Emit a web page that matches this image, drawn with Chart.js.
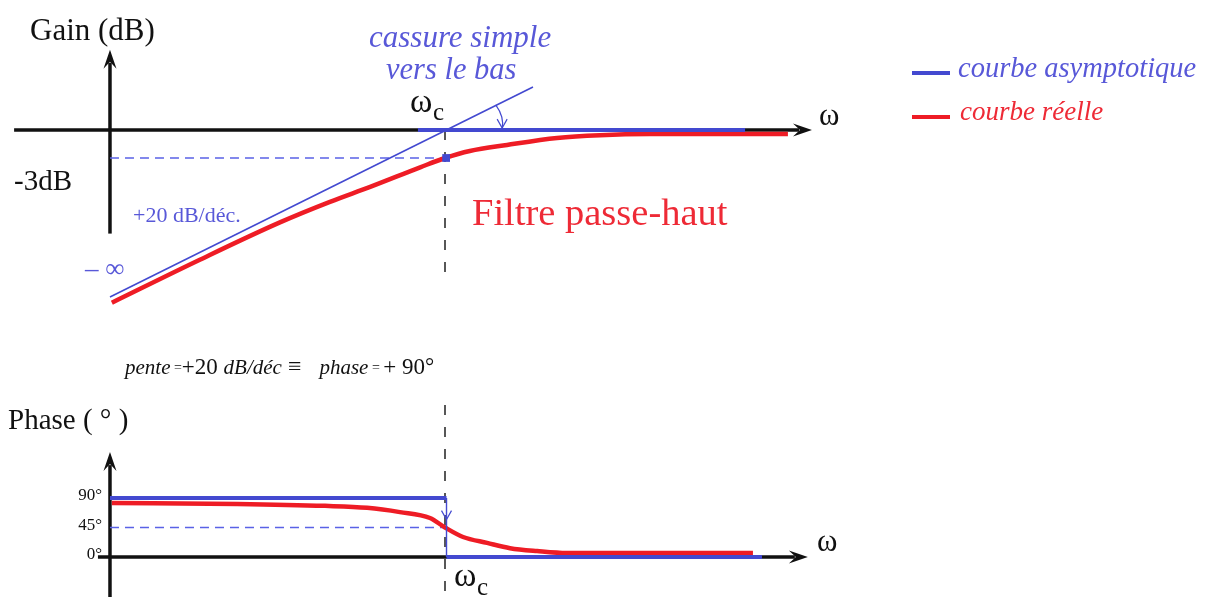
<!DOCTYPE html>
<html lang="fr">
<head>
<meta charset="utf-8">
<title>Filtre passe-haut – diagramme de Bode</title>
<script src="https://cdn.jsdelivr.net/npm/chart.js@4.4.1/dist/chart.umd.min.js"></script>
<style>
  html, body { margin: 0; padding: 0; background: #fff; }
  #bode { width: 1206px; height: 597px; }
</style>
</head>
<body>
<div id="bode"><canvas id="diagramme" width="1206" height="597"></canvas></div>
<script>
// abscisse : log10(ω/ωc), en décades ; gain en dB ; phase en degrés

// gain : asymptotes
const gainPenteX = [-0.891, 0.234];
const gainPenteY = [-17.9, 4.6];
const gainPlatX = [-0.072, 0.798];
const gainPlatY = [0, 0];
// gain : courbe réelle
const gainReelX = [-0.886, -0.652, -0.439, -0.306, -0.199, -0.066, 0, 0.066, 0.165, 0.298, 0.412, 0.545, 0.912];
const gainReelY = [-18.5, -13.9, -9.9, -7.7, -6.1, -4.0, -3.0, -2.25, -1.6, -0.85, -0.55, -0.43, -0.43];
// point à -3 dB
const coupureX = [0.003];
const coupureY = [-3];
const repereGainX = [-0.891, 0];
const repereGainY = [-3, -3];

// phase : asymptotes
const phaseBasseX = [-0.891, 0.004];
const phaseBasseY = [90, 90];
const phaseSautX = [0.004, 0.004];
const phaseSautY = [90, 0];
const phaseHauteX = [0.004, 0.843];
const phaseHauteY = [0, 0];
// phase : courbe réelle
const phaseReelX = [-0.886, -0.553, -0.319, -0.207, -0.120, -0.040, 0, 0.048, 0.112, 0.173, 0.245, 0.324, 0.819];
const phaseReelY = [82.5, 81, 78, 75, 68.5, 59.5, 45, 30.5, 21.5, 13.5, 9, 6, 6];
const reperePhaseX = [-0.891, 0];
const reperePhaseY = [45, 45];

// graduations de l'axe des phases
const phaseTicks = [90, 45, 0];
const phaseTickLabels = ['90°', '45°', '0°'];

const bleu = '#4349d0';
const bleuRepere = '#5a62e6';
const rouge = '#ee1c25';
const bleuTexte = '#5858d8';
const rougeTexte = '#ee2a36';
const noir = '#111';
const police = "'Liberation Serif', serif";

function points(xs, ys) {
  return xs.map((x, i) => ({ x: x, y: ys[i] }));
}

function courbe(xs, ys, axe, couleur, epaisseur, extra) {
  return Object.assign({
    data: points(xs, ys),
    yAxisID: axe,
    borderColor: couleur,
    backgroundColor: couleur,
    borderWidth: epaisseur,
    pointRadius: 0,
    fill: false,
    tension: 0
  }, extra || {});
}

function fleche(ctx, x1, y1, x2, y2) {
  const a = Math.atan2(y2 - y1, x2 - x1);
  const L = 17, l = 6.5;
  const bx = x2 - L * Math.cos(a), by = y2 - L * Math.sin(a);
  ctx.beginPath();
  ctx.moveTo(x1, y1);
  ctx.lineTo(bx + 4 * Math.cos(a), by + 4 * Math.sin(a));
  ctx.stroke();
  ctx.beginPath();
  ctx.moveTo(x2, y2);
  ctx.lineTo(bx - l * Math.sin(a) - 2 * Math.cos(a), by + l * Math.cos(a) - 2 * Math.sin(a));
  ctx.lineTo(bx + 5 * Math.cos(a), by + 5 * Math.sin(a));
  ctx.lineTo(bx + l * Math.sin(a) - 2 * Math.cos(a), by - l * Math.cos(a) - 2 * Math.sin(a));
  ctx.closePath();
  ctx.fill();
}

function texte(ctx, str, x, y, taille, couleur, style) {
  ctx.font = (style || '') + ' ' + taille + 'px ' + police;
  ctx.fillStyle = couleur;
  ctx.textBaseline = 'middle';
  ctx.textAlign = 'left';
  ctx.fillText(str, x, y);
}

function omegaC(ctx, x, y) {
  texte(ctx, 'ω', x, y, 34, noir);
  texte(ctx, 'c', x + 23, y + 11, 25, noir);
}

function pointe(ctx, x, y) {
  ctx.beginPath();
  ctx.moveTo(x - 5, y - 9);
  ctx.lineTo(x, y);
  ctx.lineTo(x + 5, y - 9);
  ctx.stroke();
}

const decor = {
  id: 'decor',
  beforeDatasetsDraw(chart) {
    const { ctx, scales } = chart;
    const x = scales.x, g = scales.gain, p = scales.phase;
    ctx.save();
    ctx.strokeStyle = noir;
    ctx.fillStyle = noir;
    ctx.lineWidth = 3.5;
    // axes du gain
    fleche(ctx, x.getPixelForValue(-1.146), g.getPixelForValue(0), x.getPixelForValue(0.976), g.getPixelForValue(0));
    fleche(ctx, x.getPixelForValue(-0.891), g.getPixelForValue(-11.1), x.getPixelForValue(-0.891), g.getPixelForValue(8.6));
    // axes de la phase
    fleche(ctx, x.getPixelForValue(-0.923), p.getPixelForValue(0), x.getPixelForValue(0.965), p.getPixelForValue(0));
    fleche(ctx, x.getPixelForValue(-0.891), p.getPixelForValue(-61), x.getPixelForValue(-0.891), p.getPixelForValue(160));
    ctx.restore();
  },
  afterDatasetsDraw(chart) {
    const { ctx, scales } = chart;
    const x = scales.x, g = scales.gain, p = scales.phase;
    const xc = x.getPixelForValue(0);
    ctx.save();

    // titres des axes
    texte(ctx, 'Gain (dB)', 30, 32, 31, noir);
    texte(ctx, '-3dB', 14, g.getPixelForValue(-5.6), 29, noir);
    texte(ctx, 'Phase ( ° )', 8, 421, 29, noir);
    texte(ctx, 'ω', 819, g.getPixelForValue(1.4), 31, noir);
    texte(ctx, 'ω', 817, p.getPixelForValue(21), 31, noir);
    omegaC(ctx, xc - 35, g.getPixelForValue(2.9));
    omegaC(ctx, xc + 9, p.getPixelForValue(-31));

    // graduations de la phase
    phaseTicks.forEach((v, i) => {
      ctx.font = '17px ' + police;
      const w = ctx.measureText(phaseTickLabels[i]).width;
      texte(ctx, phaseTickLabels[i], 102 - w, p.getPixelForValue(v) - 2, 17, noir);
    });

    // annotations
    texte(ctx, 'cassure simple', 369, 39, 31, bleuTexte, 'italic');
    texte(ctx, 'vers le bas', 386, 71, 30.5, bleuTexte, 'italic');
    texte(ctx, '+20 dB/déc.', 133, 216, 22, bleuTexte);
    texte(ctx, '– ∞', 85, 270, 27, bleuTexte);
    texte(ctx, 'Filtre passe-haut', 472, 215, 38.5, rougeTexte);

    // pente ≡ phase
    let cx = 125;
    const morceaux = [
      ['pente', 21, 'italic'], [' =', 14, ''], ['+20 ', 23, ''], ['dB/déc', 21, 'italic'],
      [' ≡   ', 24, ''], ['phase', 21, 'italic'], [' = ', 14, ''], ['+ 90°', 23, '']
    ];
    morceaux.forEach(m => {
      texte(ctx, m[0], cx, 368, m[1], noir, m[2]);
      ctx.font = m[2] + ' ' + m[1] + 'px ' + police;
      cx += ctx.measureText(m[0]).width;
    });

    // flèche de la cassure
    ctx.strokeStyle = bleu;
    ctx.lineWidth = 1.2;
    ctx.beginPath();
    ctx.moveTo(x.getPixelForValue(0.135), g.getPixelForValue(2.7));
    ctx.quadraticCurveTo(x.getPixelForValue(0.158), g.getPixelForValue(1.4), x.getPixelForValue(0.152), g.getPixelForValue(0.2));
    ctx.stroke();
    pointe(ctx, x.getPixelForValue(0.152), g.getPixelForValue(0.2));
    // flèche du saut de phase
    pointe(ctx, x.getPixelForValue(0.004), p.getPixelForValue(57));

    // légende
    ctx.lineWidth = 4;
    ctx.strokeStyle = bleu;
    ctx.beginPath(); ctx.moveTo(912, 73); ctx.lineTo(950, 73); ctx.stroke();
    ctx.strokeStyle = rouge;
    ctx.beginPath(); ctx.moveTo(912, 117); ctx.lineTo(950, 117); ctx.stroke();
    texte(ctx, 'courbe asymptotique', 958, 70, 28.5, bleuTexte, 'italic');
    texte(ctx, 'courbe réelle', 960, 113, 27, rougeTexte, 'italic');

    ctx.restore();
  }
};

// le premier jeu de données est dessiné au-dessus des suivants
new Chart(document.getElementById('diagramme'), {
  type: 'line',
  data: {
    datasets: [
      courbe(coupureX, coupureY, 'gain', bleu, 0, { showLine: false, pointRadius: 5.5, pointStyle: 'rect' }),
      // asymptotes
      courbe(gainPenteX, gainPenteY, 'gain', bleu, 1.6),
      courbe(gainPlatX, gainPlatY, 'gain', bleu, 4),
      courbe(phaseBasseX, phaseBasseY, 'phase', bleu, 4),
      courbe(phaseSautX, phaseSautY, 'phase', bleu, 1.4),
      courbe(phaseHauteX, phaseHauteY, 'phase', bleu, 4),
      // courbes réelles
      courbe(gainReelX, gainReelY, 'gain', rouge, 4.5, { cubicInterpolationMode: 'monotone' }),
      courbe(phaseReelX, phaseReelY, 'phase', rouge, 4.5, { cubicInterpolationMode: 'monotone' }),
      // repères pointillés
      courbe(repereGainX, repereGainY, 'gain', bleuRepere, 1.3, { borderDash: [9, 6] }),
      courbe(reperePhaseX, reperePhaseY, 'phase', bleuRepere, 1.3, { borderDash: [9, 6] }),
      courbe([0, 0], [0, -15.6], 'gain', noir, 1.4, { borderDash: [10, 12] }),
      courbe([0, 0], [232, -61], 'phase', noir, 1.4, { borderDash: [10, 12] })
    ]
  },
  options: {
    responsive: false,
    animation: false,
    events: [],
    layout: { padding: 0, autoPadding: false },
    plugins: { legend: { display: false }, tooltip: { enabled: false } },
    scales: {
      x: { type: 'linear', min: -1.1835, max: 2.0239, display: false },
      gain: { type: 'linear', position: 'left', min: -50.04, max: 13.93, display: false },
      phase: { type: 'linear', position: 'left', min: -61.0, max: 849.6, display: false }
    }
  },
  plugins: [decor]
});
</script>
</body>
</html>
